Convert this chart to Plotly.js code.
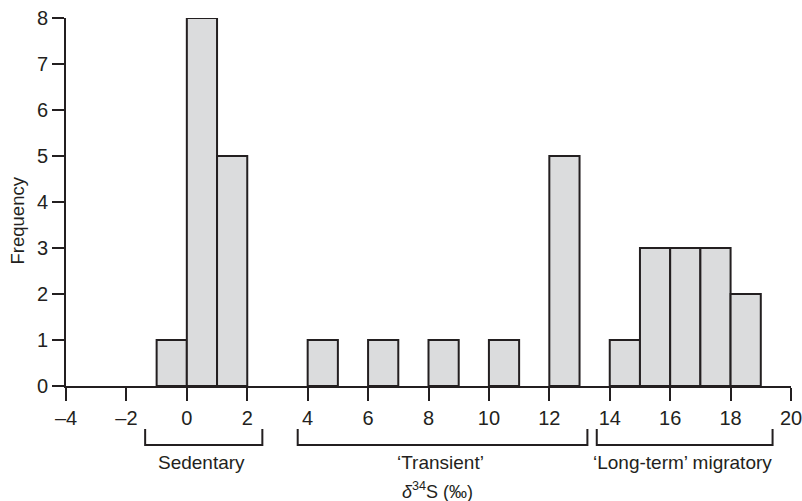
<!DOCTYPE html>
<html>
<head>
<meta charset="utf-8">
<script src="https://cdn.plot.ly/plotly-3.0.1.min.js"></script>
<style>html,body{margin:0;padding:0;background:#fff;}#chart{width:802px;height:501px;}</style>
</head>
<body>
<div id="chart"></div>
<script>
// Histogram bins (left edges, width 1) and counts
var binLeftEdges = [-1, 0, 1, 4, 6, 8, 10, 12, 14, 15, 16, 17, 18];
var binCounts    = [ 1, 8, 5, 1, 1, 1,  1,  5,  1,  3,  3,  3,  2];
var binWidth = 1;

// Group brackets: label, start, end (in δ34S units)
var groupLabels = ["Sedentary", "\u2018Transient\u2019", "\u2018Long-term\u2019 migratory"];
var groupStarts = [-1.38, 3.67, 13.57];
var groupEnds   = [ 2.50, 13.26, 19.39];

var xTickVals = [-4, -2, 0, 2, 4, 6, 8, 10, 12, 14, 16, 18, 20];
var xTickText = ["\u20134", "\u20132", "0", "2", "4", "6", "8", "10", "12", "14", "16", "18", "20"];
var yTickVals = [0, 1, 2, 3, 4, 5, 6, 7, 8];

var ink = "#231f20";
var font = "Liberation Sans, Arial, Helvetica, sans-serif";

var centers = binLeftEdges.map(function (e) { return e + binWidth / 2; });

var trace = {
  type: "bar",
  x: centers,
  y: binCounts,
  width: binLeftEdges.map(function () { return binWidth; }),
  marker: { color: "#dbdcdd", line: { color: ink, width: 2 } },
  hoverinfo: "x+y"
};

var shapes = [];
var annotations = [];
var yTop = -0.117, yBot = -0.16;
for (var i = 0; i < groupLabels.length; i++) {
  var a = groupStarts[i], b = groupEnds[i];
  shapes.push({
    type: "path", xref: "x", yref: "paper",
    path: "M " + a + "," + yTop + " L " + a + "," + yBot + " L " + b + "," + yBot + " L " + b + "," + yTop,
    line: { color: ink, width: 2 }
  });
  annotations.push({
    xref: "x", yref: "paper", x: (a + b) / 2 - 0.07, y: -0.209,
    text: groupLabels[i], showarrow: false, xanchor: "center", yanchor: "middle",
    font: { family: font, size: 19, color: ink }
  });
}
annotations.push({
  xref: "paper", yref: "paper", x: 0.512, y: -0.32,
  text: "<i>\u03b4</i><sup>34</sup>S (\u2030)", showarrow: false, xanchor: "center", yanchor: "bottom",
  font: { family: font, size: 18, color: ink }
});
annotations.push({
  xref: "paper", yref: "paper", x: -0.067, y: 0.451,
  text: "Frequency", showarrow: false, textangle: -90, xanchor: "center", yanchor: "middle",
  font: { family: font, size: 18.5, color: ink }
});

var layout = {
  width: 802, height: 501,
  margin: { l: 66, r: 11, t: 18, b: 115 },
  paper_bgcolor: "#fff", plot_bgcolor: "#fff",
  showlegend: false,
  bargap: 0,
  font: { family: font, size: 20, color: ink },
  xaxis: {
    range: [-4, 20], tickvals: xTickVals, ticktext: xTickText,
    ticks: "outside", ticklen: 13, tickwidth: 2, tickcolor: ink,
    ticklabeloverflow: "allow",
    showline: true, linecolor: ink, linewidth: 2,
    showgrid: false, zeroline: false, fixedrange: true,
    tickfont: { family: font, size: 20, color: ink }
  },
  yaxis: {
    range: [0, 8], tickvals: yTickVals,
    ticks: "outside", ticklen: 12, tickwidth: 2, tickcolor: ink,
    ticklabeloverflow: "allow",
    showline: true, linecolor: ink, linewidth: 2,
    showgrid: false, zeroline: false, fixedrange: true,
    tickfont: { family: font, size: 20, color: ink }
  },
  shapes: shapes,
  annotations: annotations
};

Plotly.newPlot("chart", [trace], layout, { displayModeBar: false, staticPlot: true });
</script>
</body>
</html>
